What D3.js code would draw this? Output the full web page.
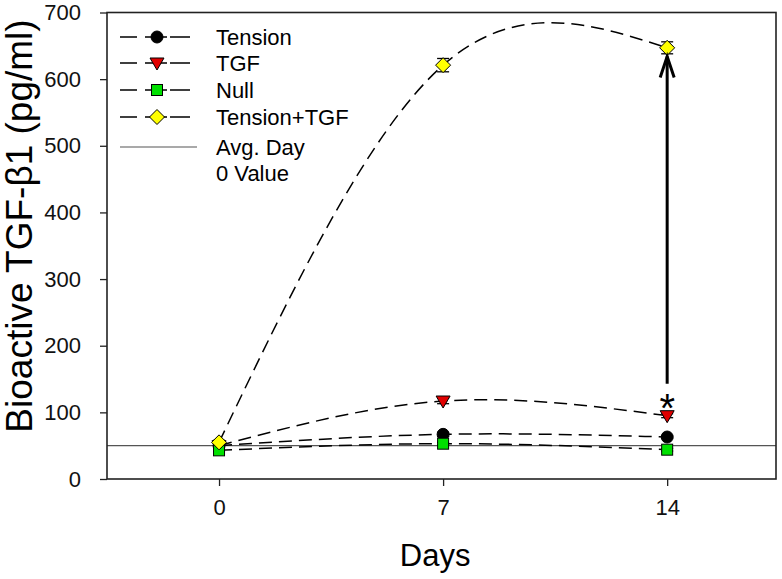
<!DOCTYPE html>
<html><head><meta charset="utf-8">
<script src="https://cdn.jsdelivr.net/npm/d3@7"></script>
<style>body{margin:0;background:#fff;} text{font-family:"Liberation Sans",Arial,sans-serif;}</style>
</head><body>
<svg id="c" width="782" height="579"></svg>
<script>
const days = [0, 7, 14];
const tension = [50, 67, 63];
const tensionErr = [2, 3, 2];
const tgf = [50, 117, 95];
const tgfErr = [2, 4, 3];
const nullS = [43, 53, 44];
const nullErr = [2, 2, 2];
const tensionTgf = [55, 621, 647];
const tensionTgfErr = [3, 10, 9];
const avgDay0 = 50;
const xTicks = [0, 7, 14];
const yTicks = [0, 100, 200, 300, 400, 500, 600, 700];
const arrowFrom = 143, arrowTo = 634, asteriskAt = 95;

const series = [
  {name: "Tension", v: tension, e: tensionErr, sym: "circle", fill: "#000000"},
  {name: "TGF", v: tgf, e: tgfErr, sym: "tri", fill: "#e00000"},
  {name: "Null", v: nullS, e: nullErr, sym: "square", fill: "#00e000"},
  {name: "Tension+TGF", v: tensionTgf, e: tensionTgfErr, sym: "diamond", fill: "#ffff00"}
];

const svg = d3.select("#c");
const L = 107, R = 776, T = 12.5, B = 479;
const x = d3.scaleLinear().domain([-3.5, 17.4]).range([L, R]);
const y = d3.scaleLinear().domain([0, 700]).range([B, T]);

// avg line
svg.append("line").attr("x1", L).attr("x2", R).attr("y1", y(avgDay0)).attr("y2", y(avgDay0))
  .attr("stroke", "#555").attr("stroke-width", 1.2);

// axes
const xAxis = svg.append("g").attr("transform", `translate(0,${B})`)
  .call(d3.axisBottom(x).tickValues(xTicks).tickSize(7).tickPadding(13).tickFormat(d3.format("d")));
const yAxis = svg.append("g").attr("transform", `translate(${L},0)`)
  .call(d3.axisLeft(y).tickValues(yTicks).tickSize(7).tickPadding(19));
[xAxis, yAxis].forEach(g => {
  g.select(".domain").remove();
  g.selectAll("line").attr("stroke", "#222").attr("stroke-width", 1.3);
  g.selectAll("text").attr("font-size", 22).attr("fill", "#111");
});
// frame
svg.append("rect").attr("x", L).attr("y", T).attr("width", R - L).attr("height", B - T)
  .attr("fill", "none").attr("stroke", "#222").attr("stroke-width", 1.6);

// curves
const line = d3.line().x((d, i) => x(days[i])).y(d => y(d)).curve(d3.curveNatural);
series.forEach(s => {
  svg.append("path").attr("d", line(s.v)).attr("fill", "none").attr("stroke", "#000")
    .attr("stroke-width", 1.5).attr("stroke-dasharray", "13,7");
});

function sym(g, type, fill, cx, cy) {
  let el;
  if (type === "circle") el = g.append("circle").attr("cx", cx).attr("cy", cy).attr("r", 6);
  else if (type === "square") el = g.append("rect").attr("x", cx - 5.5).attr("y", cy - 5.5).attr("width", 11).attr("height", 11);
  else if (type === "tri") el = g.append("path").attr("d", `M${cx-7},${cy-5}L${cx+7},${cy-5}L${cx},${cy+7}Z`);
  else el = g.append("path").attr("d", `M${cx},${cy-7.5}L${cx+7.5},${cy}L${cx},${cy+7.5}L${cx-7.5},${cy}Z`);
  el.attr("fill", fill).attr("stroke", "#000").attr("stroke-width", 1);
}

// error bars + markers
series.forEach(s => {
  const g = svg.append("g");
  s.v.forEach((v, i) => {
    const cx = x(days[i]);
    const e = s.e[i];
    g.append("line").attr("x1", cx).attr("x2", cx).attr("y1", y(v - e)).attr("y2", y(v + e)).attr("stroke", "#000");
    [v - e, v + e].forEach(w => g.append("line").attr("x1", cx - 6).attr("x2", cx + 6)
      .attr("y1", y(w)).attr("y2", y(w)).attr("stroke", "#000").attr("stroke-width", 1.3));
  });
  s.v.forEach((v, i) => sym(g, s.sym, s.fill, x(days[i]), y(v)));
});

// arrow + asterisk
const ax = x(14);
svg.append("line").attr("x1", ax).attr("x2", ax).attr("y1", y(arrowFrom)).attr("y2", y(arrowTo))
  .attr("stroke", "#000").attr("stroke-width", 3);
svg.append("path").attr("d", `M${ax-7},${y(arrowTo)+21}L${ax},${y(arrowTo)}L${ax+7},${y(arrowTo)+21}`)
  .attr("fill", "none").attr("stroke", "#000").attr("stroke-width", 3);
svg.append("text").attr("x", ax).attr("y", y(asteriskAt) + 6).attr("text-anchor", "middle")
  .attr("font-size", 40).text("*");

// legend
const lg = svg.append("g");
const rowY = [37, 63, 90, 117];
series.forEach((s, i) => {
  lg.append("line").attr("x1", 120).attr("x2", 190).attr("y1", rowY[i]).attr("y2", rowY[i])
    .attr("stroke", "#000").attr("stroke-width", 1.5).attr("stroke-dasharray", "17,8,22,3,20");
  sym(lg, s.sym, s.fill, 157, rowY[i]);
  lg.append("text").attr("x", 216).attr("y", rowY[i] + 8).attr("font-size", 22).text(s.name);
});
lg.append("line").attr("x1", 120).attr("x2", 197).attr("y1", 147).attr("y2", 147).attr("stroke", "#555").attr("stroke-width", 1.2);
lg.append("text").attr("x", 216).attr("y", 155).attr("font-size", 22).text("Avg. Day");
lg.append("text").attr("x", 216).attr("y", 181).attr("font-size", 22).text("0 Value");

// titles
svg.append("text").attr("x", x(7) - 8).attr("y", 566).attr("text-anchor", "middle").attr("font-size", 31).text("Days");
svg.append("text").attr("transform", `translate(32,226) rotate(-90)`).attr("text-anchor", "middle")
  .attr("font-size", 37).text("Bioactive TGF-β1 (pg/ml)");
</script>
</body></html>
